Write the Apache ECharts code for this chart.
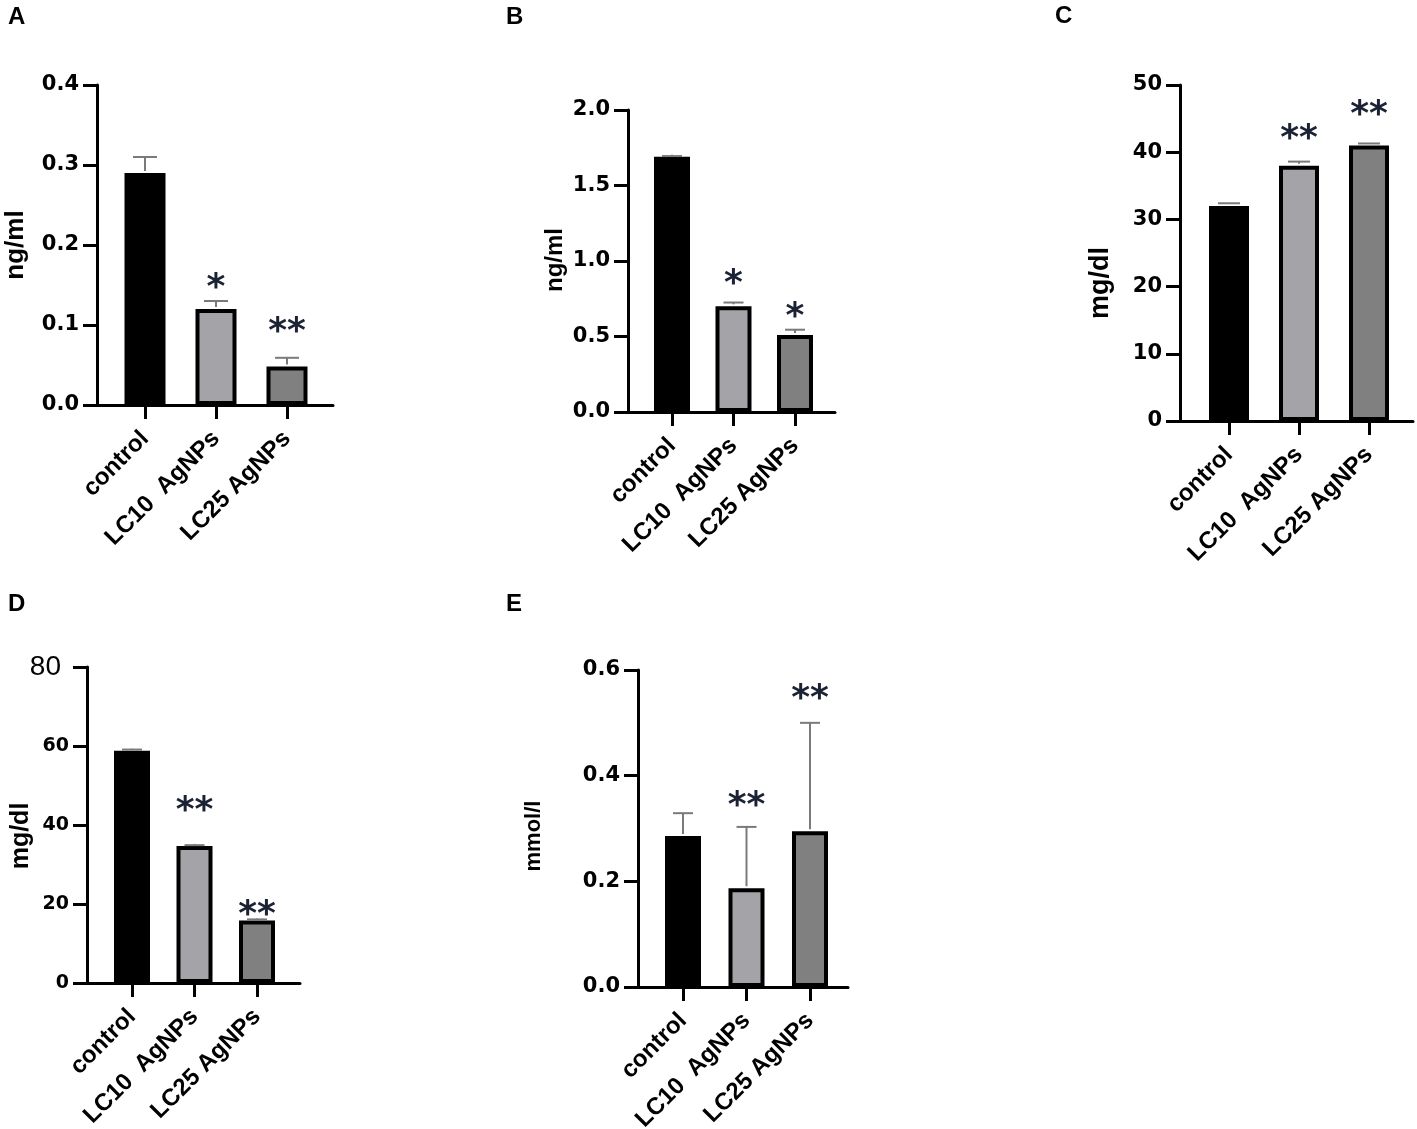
<!DOCTYPE html>
<html lang="en">
	<head>
		<meta charset="UTF-8" />
		<title>AgNPs panels</title>
		<style>
			html, body { margin: 0; padding: 0; background: #fff; }
		</style>
	</head>
	<body>
		<div id="main" style="width: 1417px; height: 1129px"></div>
		<script src="https://cdn.jsdelivr.net/npm/echarts@6/dist/echarts.min.js"></script>
		<script>
			// groups on the x axis
			var categories = ["control", "LC10  AgNPs", "LC25 AgNPs"];
			var barColors = ["#000000", "#a4a4a8", "#808080"];

			// panel A
			var aMeans = [0.29, 0.12, 0.048];
			var aErrors = [0.02, 0.01, 0.011];
			var aStars = ["", "*", "**"];
			var aTicks = [0, 0.1, 0.2, 0.3, 0.4];

			// panel B
			var bMeans = [1.69, 0.7, 0.51];
			var bErrors = [0.005, 0.025, 0.035];
			var bStars = ["", "*", "*"];
			var bTicks = [0, 0.5, 1.0, 1.5, 2.0];

			// panel C
			var cMeans = [32, 38, 41];
			var cErrors = [0.4, 0.6, 0.3];
			var cStars = ["", "**", "**"];
			var cTicks = [0, 10, 20, 30, 40, 50];

			// panel D
			var dMeans = [58.8, 34.7, 15.8];
			var dErrors = [0.3, 0.2, 0.3];
			var dStars = ["", "**", "**"];
			var dTicks = [0, 20, 40, 60, 80];

			// panel E
			var eMeans = [0.286, 0.187, 0.295];
			var eErrors = [0.043, 0.116, 0.205];
			var eStars = ["", "**", "**"];
			var eTicks = [0, 0.2, 0.4, 0.6];

			// layout of each panel in pixels
			var panels = [
				{ letter: "A", means: aMeans, errors: aErrors, stars: aStars, ticks: aTicks, digits: 1, unit: "ng/ml",
				  left: 97, right: 333, top: 85, bottom: 405, first: 145, step: 71, bar: 45, cap: 12,
				  starAt: [0, 0.156, 0.1], letterX: 8, letterY: 5, nameX: 16, nameY: 245, nameSize: 26 },
				{ letter: "B", means: bMeans, errors: bErrors, stars: bStars, ticks: bTicks, digits: 1, unit: "ng/ml",
				  left: 628, right: 835, top: 110, bottom: 412, first: 672, step: 61.5, bar: 40, cap: 10,
				  starAt: [0, 0.894, 0.68], letterX: 506, letterY: 5, nameX: 555, nameY: 260, nameSize: 24 },
				{ letter: "C", means: cMeans, errors: cErrors, stars: cStars, ticks: cTicks, digits: 0, unit: "mg/dl",
				  left: 1180, right: 1413, top: 85, bottom: 421, first: 1229, step: 70, bar: 44, cap: 11,
				  starAt: [0, 43.1, 46.7], letterX: 1055, letterY: 4, nameX: 1101, nameY: 283, nameSize: 27 },
				{ letter: "D", means: dMeans, errors: dErrors, stars: dStars, ticks: dTicks, digits: 0, unit: "mg/dl",
				  left: 87, right: 300, top: 667, bottom: 983, first: 132, step: 62.5, bar: 40, cap: 10,
				  starAt: [0, 45.3, 19.2], letterX: 8, letterY: 592, nameX: 21, nameY: 836, nameSize: 25, bigTop: true },
				{ letter: "E", means: eMeans, errors: eErrors, stars: eStars, ticks: eTicks, digits: 1, unit: "mmol/l",
				  left: 638, right: 848, top: 670, bottom: 987, first: 683, step: 63.5, bar: 40, cap: 10,
				  starAt: [0, 0.356, 0.559], letterX: 506, letterY: 592, nameX: 534, nameY: 836, nameSize: 22 },
			];

			var myChart = echarts.init(document.getElementById("main"));

			var grids = [], xAxes = [], yAxes = [], series = [], graphics = [];

			panels.forEach(function (p, k) {
				var ticks = p.ticks;
				var yMax = ticks[ticks.length - 1];
				var last = p.first + 2 * p.step;

				grids.push({
					left: p.left,
					top: p.top,
					width: p.right - p.left,
					height: p.bottom - p.top,
					outerBoundsMode: "none",
				});

				xAxes.push({
					gridIndex: k,
					type: "value",
					min: -(p.first - p.left) / p.step,
					max: 2 + (p.right - last) / p.step,
					splitLine: { show: false },
					axisLine: { onZero: false, lineStyle: { color: "#000", width: 3 } },
					axisTick: { show: true, customValues: [0, 1, 2], length: 14, lineStyle: { color: "#000", width: 3 } },
					axisLabel: {
						customValues: [0, 1, 2],
						formatter: function (v) { return categories[Math.round(v)]; },
						rotate: 45,
						margin: 30,
						fontFamily: "Liberation Sans",
						fontWeight: "bold",
						fontSize: 24,
						color: "#000",
					},
				});

				var yLabel = {
					margin: 18,
					fontFamily: "DejaVu Sans",
					fontWeight: "bold",
					fontSize: k === 3 ? 19 : 21,
					color: "#000",
					formatter: function (v) { return v.toFixed(p.digits); },
				};
				if (p.bigTop) {
					// the top label of D is set larger and plain
					yLabel.formatter = function (v) {
						return v === yMax ? "{big|" + v + "}" : String(v);
					};
					yLabel.rich = { big: { fontFamily: "Liberation Sans", fontWeight: "normal", fontSize: 28, color: "#000", padding: [0, 8, 0, 0] } };
				}

				yAxes.push({
					gridIndex: k,
					type: "value",
					min: 0,
					max: yMax,
					interval: ticks[1] - ticks[0],
					splitLine: { show: false },
					axisLine: { show: true, onZero: false, lineStyle: { color: "#000", width: 3 } },
					axisTick: { show: true, length: 14, lineStyle: { color: "#000", width: 3 } },
					axisLabel: yLabel,
				});

				series.push({
					type: "bar",
					xAxisIndex: k,
					yAxisIndex: k,
					barWidth: p.bar - 4,
					itemStyle: { borderColor: "#000", borderWidth: 4 },
					data: p.means.map(function (m, i) {
						return { value: [i, m], itemStyle: { color: barColors[i] } };
					}),
					z: 2,
				});

				// error bars (upper half only) and significance stars
				series.push({
					type: "custom",
					xAxisIndex: k,
					yAxisIndex: k,
					z: 3,
					data: p.means.map(function (m, i) {
						return [i, m, p.errors[i], p.starAt[i]];
					}),
					renderItem: function (params, api) {
						var i = api.value(0);
						var base = api.coord([i, api.value(1)]);
						var top = api.coord([i, api.value(1) + api.value(2)]);
						var kids = [
							{ type: "line", shape: { x1: base[0], y1: base[1] - 2, x2: top[0], y2: top[1] },
							  style: { stroke: "#7a7a7a", lineWidth: 2 } },
							{ type: "line", shape: { x1: top[0] - p.cap, y1: top[1], x2: top[0] + p.cap, y2: top[1] },
							  style: { stroke: "#7a7a7a", lineWidth: 2 } },
						];
						var s = p.stars[params.dataIndex];
						if (s) {
							var sp = api.coord([i, api.value(3)]);
							kids.push({
								type: "text",
								x: sp[0],
								y: sp[1] + 8,
								style: {
									text: s,
									fill: "#1b2233",
									font: "bold 36px 'DejaVu Sans'",
									align: "center",
									verticalAlign: "middle",
								},
							});
						}
						return { type: "group", children: kids };
					},
				});

				graphics.push({
					type: "text",
					left: p.letterX,
					top: p.letterY,
					style: { text: p.letter, fill: "#000", font: "bold 24px 'Liberation Sans'" },
				});
				graphics.push({
					type: "text",
					x: p.nameX,
					y: p.nameY,
					rotation: Math.PI / 2,
					style: {
						text: p.unit,
						fill: "#000",
						font: "bold " + p.nameSize + "px 'Liberation Sans'",
						align: "center",
						verticalAlign: "middle",
					},
				});
			});

			var option = {
				backgroundColor: "#fff",
				animation: false,
				grid: grids,
				xAxis: xAxes,
				yAxis: yAxes,
				series: series,
				graphic: graphics,
			};

			myChart.setOption(option);
		</script>
	</body>
</html>
